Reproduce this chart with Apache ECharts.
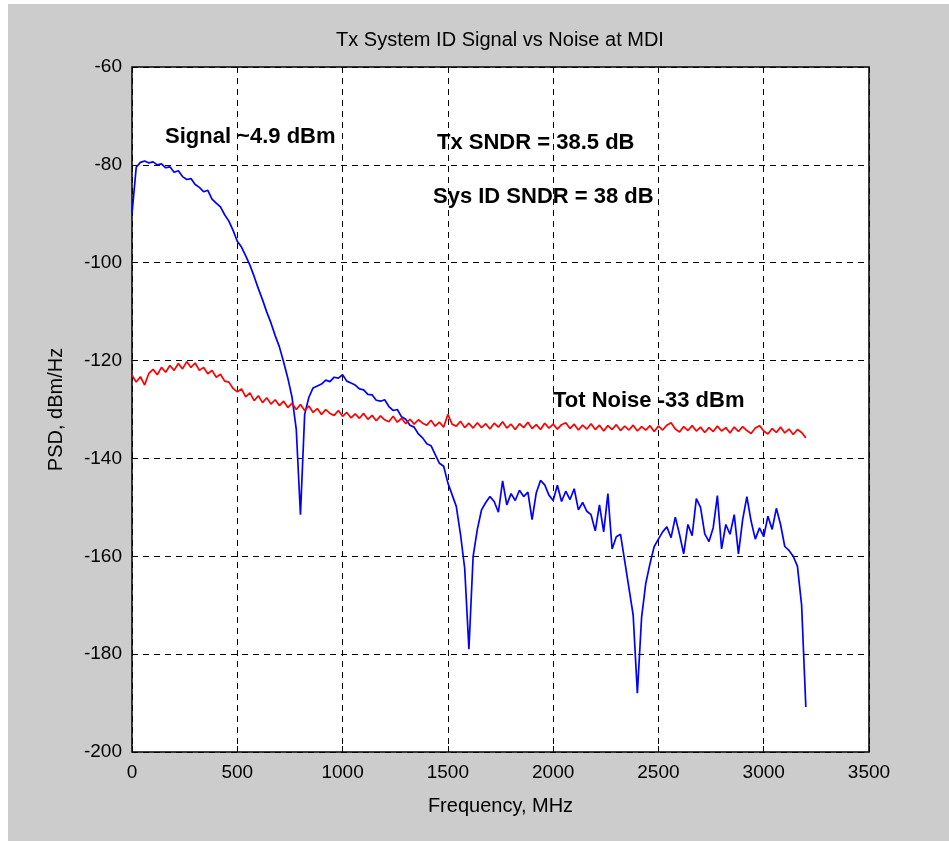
<!DOCTYPE html>
<html>
<head>
<meta charset="utf-8">
<script src="https://cdn.jsdelivr.net/npm/echarts@6/dist/echarts.min.js"></script>
<style>
html,body{margin:0;padding:0;background:#ffffff;width:949px;height:841px;overflow:hidden;}
#chart{position:absolute;left:8px;top:4px;width:941px;height:837px;}
</style>
</head>
<body>
<div id="chart"></div>
<script>
// Frequency grid (MHz), step 20, 0..3200
var freqStart = 0, freqStep = 20;
var xTicks = [0, 500, 1000, 1500, 2000, 2500, 3000, 3500];
var yTicks = [-200, -180, -160, -140, -120, -100, -80, -60];

var signalPSD = [
-90.0,-80.5,-79.5,-79.2,-79.6,-79.4,-80.0,-79.8,-80.6,-80.4,
-81.5,-81.2,-82.4,-83.0,-82.8,-84.0,-84.6,-85.5,-85.2,-87.0,
-87.8,-88.6,-90.2,-91.5,-93.4,-95.6,-96.8,-98.6,-100.5,-102.8,
-105.3,-107.6,-110.1,-112.3,-114.9,-117.2,-120.3,-123.6,-127.5,-134.0,
-151.5,-131.0,-127.5,-125.6,-125.2,-124.8,-124.0,-124.3,-123.4,-123.6,
-122.9,-124.2,-124.6,-125.0,-125.8,-126.0,-126.9,-127.0,-128.1,-128.3,
-128.0,-129.4,-130.2,-130.0,-131.5,-132.0,-133.2,-133.6,-135.0,-135.8,
-137.0,-137.4,-139.2,-141.0,-141.6,-145.0,-147.4,-149.8,-155.5,-162.5,
-179.0,-160.0,-154.5,-150.5,-149.0,-147.8,-148.8,-151.0,-144.6,-149.5,
-147.2,-148.6,-146.5,-147.8,-146.9,-152.5,-147.0,-144.5,-145.4,-147.5,
-148.6,-145.5,-148.8,-146.7,-148.4,-146.2,-150.5,-149.0,-150.8,-151.5,
-154.8,-149.5,-155.0,-147.2,-158.5,-156.0,-155.5,-161.0,-166.5,-172.0,
-188.0,-172.5,-165.5,-161.5,-158.0,-156.5,-155.0,-154.0,-156.2,-152.0,
-155.5,-159.5,-153.5,-155.8,-148.2,-150.0,-155.4,-157.0,-154.2,-147.6,
-158.5,-153.5,-155.5,-151.5,-159.5,-152.5,-147.8,-152.8,-156.5,-154.2,
-156.0,-151.8,-154.5,-150.2,-153.5,-158.0,-158.8,-160.0,-162.0,-170.0,
-190.8
];

var noisePSD = [
-123.0,-124.4,-123.3,-125.0,-122.6,-121.8,-122.9,-121.4,-122.4,-121.0,
-122.0,-120.6,-121.7,-120.2,-121.4,-120.5,-122.0,-121.4,-122.7,-122.0,
-123.4,-122.8,-124.2,-124.4,-125.7,-126.4,-125.8,-127.4,-126.6,-128.2,
-127.2,-128.6,-127.6,-128.9,-128.0,-129.2,-128.3,-129.6,-128.7,-130.0,
-129.0,-130.2,-129.3,-130.6,-129.8,-131.0,-130.0,-130.8,-131.2,-130.2,
-131.4,-130.6,-131.7,-130.9,-131.8,-130.8,-132.0,-131.2,-132.3,-131.3,
-132.1,-132.5,-131.4,-132.6,-131.8,-132.9,-132.0,-133.0,-132.1,-132.8,
-133.2,-132.2,-133.4,-132.6,-133.6,-131.0,-133.0,-133.4,-132.4,-133.7,
-132.8,-133.8,-132.7,-133.7,-132.9,-134.0,-132.8,-133.6,-132.5,-133.8,
-133.0,-134.1,-132.9,-133.7,-132.6,-133.9,-133.1,-134.1,-132.8,-133.8,
-133.0,-134.0,-133.1,-132.7,-133.9,-133.0,-134.2,-133.2,-134.0,-132.9,
-134.1,-133.2,-134.4,-133.3,-134.1,-133.1,-134.3,-133.4,-134.2,-133.2,
-134.4,-133.5,-134.2,-133.3,-134.5,-133.4,-134.2,-133.2,-132.7,-134.0,
-134.6,-133.5,-134.3,-133.3,-134.4,-133.6,-134.7,-133.7,-134.5,-133.4,
-134.4,-133.7,-134.8,-133.6,-134.5,-133.5,-134.3,-134.9,-133.8,-133.3,
-134.4,-135.0,-133.9,-134.7,-133.6,-134.8,-134.0,-135.1,-134.1,-134.7,
-135.8
];

var titleText = 'Tx System ID Signal vs Noise at MDI';
var xName = 'Frequency, MHz';
var yName = 'PSD, dBm/Hz';
var notes = ['Signal ~4.9 dBm', 'Tx SNDR = 38.5 dB', 'Sys ID SNDR = 38 dB', 'Tot Noise -33 dBm'];

function pairs(arr){
  var out = [];
  for (var i = 0; i < arr.length; i++) out.push([freqStart + i*freqStep, arr[i]]);
  return out;
}

var FONT = '"Liberation Sans", Arial, Helvetica, sans-serif';
var chart = echarts.init(document.getElementById('chart'), null, {renderer:'canvas'});
var gridDash = {color:'#000', width:1, type:[6,5]};
var boldNote = {fill:'#000', font:'bold 22px ' + FONT};

chart.setOption({
  backgroundColor:'#cccccc',
  animation:false,
  grid:{left:124, top:63, width:737, height:685, show:true, backgroundColor:'#ffffff', borderColor:'#000', borderWidth:1.5},
  xAxis:{
    type:'value', min:0, max:3500, interval:500,
    name:xName, nameLocation:'middle', nameGap:44,
    nameTextStyle:{color:'#000', fontSize:20, fontFamily:FONT},
    axisLine:{show:false},
    axisTick:{show:true, inside:true, length:6, lineStyle:{color:'#000'}},
    axisLabel:{color:'#000', fontSize:19, fontFamily:FONT, margin:11, formatter:function(v){return String(v);}},
    splitLine:{show:true, lineStyle:gridDash}
  },
  yAxis:{
    type:'value', min:-200, max:-60, interval:20,
    name:yName, nameLocation:'middle', nameGap:66, nameRotate:90,
    nameTextStyle:{color:'#000', fontSize:20, fontFamily:FONT},
    axisLine:{show:false},
    axisTick:{show:true, inside:true, length:6, lineStyle:{color:'#000'}},
    axisLabel:{color:'#000', fontSize:19, fontFamily:FONT, margin:10, formatter:function(v){return String(v);}},
    splitLine:{show:true, lineStyle:gridDash}
  },
  graphic:[
    {type:'text', x:492, y:36, style:{text:titleText, fill:'#000', font:'20px ' + FONT, textAlign:'center', textVerticalAlign:'middle'}},
    {type:'text', x:157, y:133, style:Object.assign({text:notes[0], textVerticalAlign:'middle'}, boldNote), z:10},
    {type:'text', x:429, y:139, style:Object.assign({text:notes[1], textVerticalAlign:'middle'}, boldNote), z:10},
    {type:'text', x:425, y:193, style:Object.assign({text:notes[2], textVerticalAlign:'middle'}, boldNote), z:10},
    {type:'text', x:545, y:397, style:Object.assign({text:notes[3], textVerticalAlign:'middle'}, boldNote), z:10}
  ],
  series:[
    {type:'line', data:pairs(signalPSD), showSymbol:false, lineStyle:{color:'#0000ff', width:1.7}, z:3},
    {type:'line', data:pairs(noisePSD), showSymbol:false, lineStyle:{color:'#ff0000', width:1.7}, z:4}
  ]
});
</script>
</body>
</html>
